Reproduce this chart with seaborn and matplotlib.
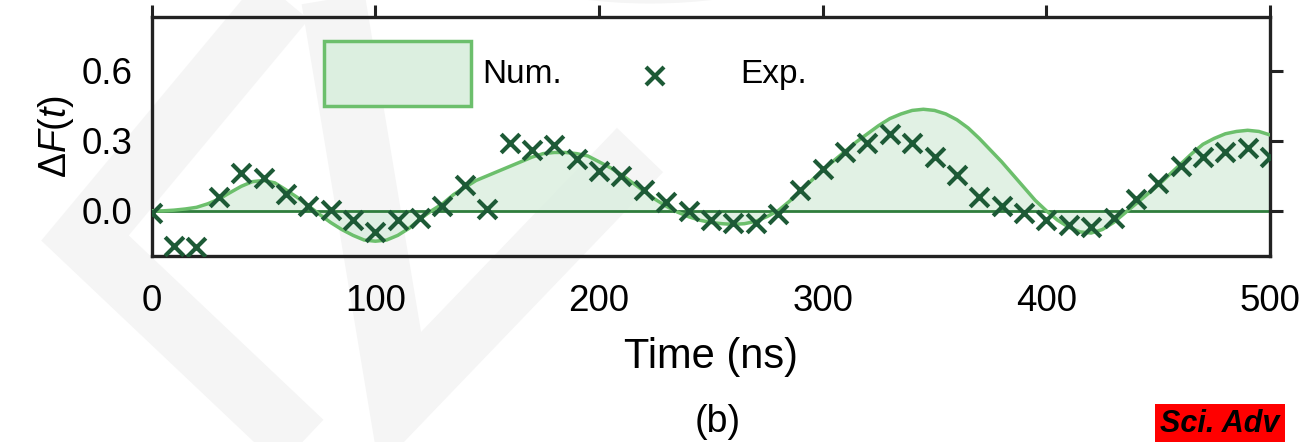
import numpy as np
import pandas as pd
import matplotlib
matplotlib.use("Agg")
import matplotlib.pyplot as plt
import seaborn as sns
from matplotlib.patches import Patch, Wedge
from matplotlib.lines import Line2D
from matplotlib.legend_handler import HandlerLine2D

# experimental points, every 10 ns
t_exp = list(range(0, 510, 10))
df_exp = [-0.01, -0.15, -0.155, 0.06, 0.16, 0.14, 0.07, 0.02, 0.005, -0.04,
          -0.09, -0.04, -0.03, 0.02, 0.11, 0.01, 0.29, 0.26, 0.28, 0.22,
          0.17, 0.15, 0.09, 0.04, 0.0, -0.04, -0.05, -0.05, -0.015, 0.09,
          0.18, 0.25, 0.29, 0.33, 0.29, 0.23, 0.155, 0.06, 0.02, -0.01,
          -0.04, -0.06, -0.07, -0.03, 0.05, 0.12, 0.19, 0.23, 0.25, 0.27,
          0.23]

# numerical curve, every 5 ns
t_num = list(range(0, 505, 5))
df_num = [0.0, 0.0, 0.003, 0.008, 0.015, 0.03, 0.05, 0.078, 0.105, 0.125,
          0.13, 0.12, 0.09, 0.058, 0.022, -0.015, -0.05, -0.08, -0.105, -0.125,
          -0.13, -0.125, -0.105, -0.075, -0.035, 0.0, 0.03, 0.07, 0.10, 0.13,
          0.15, 0.17, 0.19, 0.21, 0.23, 0.245, 0.25, 0.25, 0.245, 0.235,
          0.21, 0.185, 0.155, 0.12, 0.085, 0.05, 0.02, -0.005, -0.025, -0.04,
          -0.05, -0.055, -0.058, -0.055, -0.045, -0.025, 0.0, 0.04, 0.085, 0.13,
          0.175, 0.215, 0.255, 0.295, 0.33, 0.365, 0.395, 0.415, 0.43, 0.435,
          0.43, 0.415, 0.39, 0.355, 0.31, 0.26, 0.21, 0.155, 0.10, 0.045,
          0.0, -0.04, -0.07, -0.09, -0.095, -0.08, -0.05, -0.01, 0.03, 0.07,
          0.11, 0.155, 0.20, 0.245, 0.285, 0.31, 0.33, 0.34, 0.345, 0.34,
          0.325]

sns.set_style("white")
plt.rcParams['font.family'] = ['Liberation Sans', 'DejaVu Sans']
plt.rcParams['mathtext.fontset'] = 'custom'
plt.rcParams['mathtext.rm'] = 'Liberation Sans'
plt.rcParams['mathtext.it'] = 'Liberation Sans:italic'
plt.rcParams['text.color'] = 'black'
plt.rcParams['axes.labelcolor'] = 'black'
plt.rcParams['xtick.color'] = 'black'
plt.rcParams['ytick.color'] = 'black'

dark = '#1d5a36'
light = '#6cbf6c'
fillc = '#dcefe0'

W, H = 1308, 442
fig = plt.figure(figsize=(W / 100, H / 100), dpi=100)

# faint watermark in the background (pixel coords, y from top)
wm = '#f5f5f5'
def px(pts):
    return [p[0] / W for p in pts], [1 - p[1] / H for p in pts]

for pts in [[(300, -20), (85, 238), (330, 470)],
            [(330, -20), (400, 400), (640, 150)]]:
    xs, ys = px(pts)
    fig.add_artist(Line2D(xs, ys, transform=fig.transFigure, color=wm, lw=46,
                          solid_joinstyle='miter', solid_capstyle='butt', zorder=0))
fig.add_artist(Wedge((650 / W, 1 + 60 / H), 188 / W, 180, 360, width=50 / W,
                     transform=fig.transFigure, facecolor=wm, edgecolor='none', zorder=0))

ax = fig.add_axes([0.116, 0.421, 0.855, 0.5405])
ax.patch.set_alpha(0)

num = pd.DataFrame({'t': t_num, 'v': df_num})
exp = pd.DataFrame({'t': t_exp, 'v': df_exp})

ax.fill_between(num['t'], num['v'], 0, color=fillc, alpha=0.85, lw=0, zorder=1)
ax.axhline(0, color='#2f7d3c', lw=2, zorder=2)
sns.lineplot(data=num, x='t', y='v', ax=ax, color=light, lw=2.5, zorder=3)
sns.scatterplot(data=exp, x='t', y='v', ax=ax, marker='x', s=180,
                color=dark, linewidth=3, zorder=4)

ax.set_xlim(0, 500)
ax.set_ylim(-0.193, 0.83)
ax.set_xticks([0, 100, 200, 300, 400, 500])
ax.set_yticks([0.0, 0.3, 0.6])
ax.set_yticklabels(['0.0', '0.3', '0.6'])
ax.tick_params(axis='both', which='both', direction='out', length=9, width=2.2,
               labelsize=26.5, top=True, right=True, labeltop=False, labelright=False,
               color='#222222')
ax.tick_params(axis='x', pad=11)
ax.tick_params(axis='y', pad=5)
for s in ax.spines.values():
    s.set_linewidth(2.4)
    s.set_color('#222222')

ax.set_xlabel('Time (ns)', fontsize=30, labelpad=13)
ax.set_ylabel(r'$\Delta F(t)$', fontsize=27, labelpad=4)


class LowerMarker(HandlerLine2D):
    # push the legend marker down to sit level with its text
    def create_artists(self, *args, **kwargs):
        arts = super().create_artists(*args, **kwargs)
        for a in arts:
            a.set_ydata([y - 10 for y in a.get_ydata()])
        return arts


handles = [Patch(facecolor=fillc, edgecolor=light, lw=2.5),
           Line2D([], [], marker='x', ls='none', color=dark, markersize=13, mew=3)]
ax.legend(handles, ['Num.', 'Exp.'], ncol=2, frameon=False, fontsize=24,
          loc='upper left', bbox_to_anchor=(0.142, 0.955), handlelength=4.4,
          handleheight=2.6, handletextpad=0.35, columnspacing=0.6,
          borderaxespad=0, handler_map={Line2D: LowerMarker()})

fig.text(0.549, 0.045, '(b)', fontsize=27, ha='center', va='center')
fig.text(0.887, 0.006, 'Sci. Adv', fontsize=22, fontweight='bold', style='italic',
         ha='left', va='bottom',
         bbox=dict(facecolor='#ff0000', edgecolor='none', pad=4))

fig.savefig('out.png', dpi=100)
